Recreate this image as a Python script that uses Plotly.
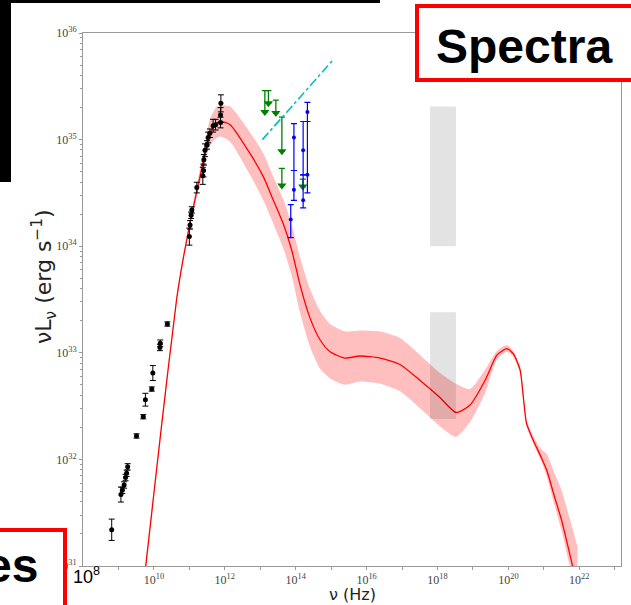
import numpy as np
import plotly.graph_objects as go

# ---------------- data (log10 values) ----------------
# black radio / sub-mm points
blk_lognu = [8.81, 9.07, 9.11, 9.16, 9.20, 9.23, 9.26, 9.51, 9.70, 9.76, 9.94, 9.97,
             10.17, 10.18, 10.38, 11.00, 11.02, 11.05, 11.07, 11.21, 11.38, 11.40,
             11.41, 11.44, 11.50, 11.53, 11.58, 11.67, 11.74, 11.88, 11.88, 11.89]
blk_logL = [31.34, 31.67, 31.71, 31.76, 31.83, 31.87, 31.93, 32.22, 32.40, 32.56, 32.66, 32.81,
            33.05, 33.09, 33.27, 34.09, 34.20, 34.29, 34.34, 34.55, 34.66, 34.71,
            34.81, 34.90, 34.95, 35.02, 35.06, 35.13, 35.14, 35.16, 35.23, 35.34]
blk_err = [0.10, 0.07, 0.03, 0.03, 0.03, 0.03, 0.03, 0.02, 0.02, 0.06, 0.02, 0.07,
           0.03, 0.03, 0.02, 0.08, 0.04, 0.03, 0.03, 0.05, 0.08, 0.06,
           0.05, 0.06, 0.04, 0.05, 0.04, 0.06, 0.05, 0.05, 0.07, 0.08]

# green upper limits: log nu, top (limit) and arrow tip
grn_lognu = [13.13, 13.23, 13.44, 13.61, 13.61, 14.20]
grn_top = [35.46, 35.46, 35.37, 35.21, 34.73, 34.63]
grn_tip = [35.26, 35.34, 35.25, 34.89, 34.57, 34.56]

# blue IR points with asymmetric errors (dex)
blu_lognu = [13.86, 13.95, 13.95, 14.21, 14.21, 14.33, 14.33]
blu_logL = [34.25, 35.02, 34.53, 34.90, 34.43, 35.26, 34.67]
blu_up = [0.14, 0.13, 0.18, 0.27, 0.24, 0.09, 0.50]
blu_dn = [0.17, 0.31, 0.10, 0.23, 0.07, 0.09, 0.17]

# cyan dash-dot line
cyan_lognu = [13.06, 15.06]
cyan_logL = [35.00, 35.75]

# model curve with uncertainty band
mod_lognu = [9.70, 9.79, 10.20, 10.64, 10.83, 11.02, 11.30, 11.58, 11.75, 11.88, 12.15,
             12.71, 13.09, 13.37, 13.65, 13.89, 14.12, 14.40, 14.69, 14.97, 15.39,
             15.81, 16.38, 16.94, 17.51, 18.07, 18.52, 18.92, 19.34, 19.68, 19.96,
             20.14, 20.33, 20.42, 20.51, 20.70, 20.94, 21.08, 21.30, 21.50, 21.81, 21.95]
mod_logL = [30.80, 31.06, 32.27, 33.50, 33.89, 34.22, 34.65, 35.06, 35.15, 35.17, 35.14,
            34.87, 34.65, 34.43, 34.21, 33.96, 33.64, 33.33, 33.12, 33.01, 32.95,
            32.97, 32.95, 32.89, 32.74, 32.58, 32.44, 32.51, 32.74, 32.98, 33.04,
            32.99, 32.84, 32.59, 32.34, 32.18, 32.01, 31.90, 31.65, 31.43, 31.00, 30.80]
mod_up = [0.02, 0.02, 0.02, 0.02, 0.02, 0.03, 0.08, 0.13, 0.15, 0.15, 0.17,
          0.20, 0.22, 0.22, 0.23, 0.24, 0.26, 0.27, 0.27, 0.26, 0.25,
          0.24, 0.25, 0.25, 0.24, 0.23, 0.27, 0.15, 0.10, 0.04, 0.03,
          0.03, 0.03, 0.03, 0.03, 0.04, 0.08, 0.15, 0.22, 0.28, 0.35, 0.38]
mod_dn = [0.02, 0.02, 0.02, 0.02, 0.02, 0.03, 0.06, 0.12, 0.14, 0.14, 0.16,
          0.20, 0.22, 0.22, 0.23, 0.24, 0.26, 0.27, 0.27, 0.25, 0.25,
          0.24, 0.24, 0.25, 0.26, 0.27, 0.23, 0.16, 0.12, 0.04, 0.03,
          0.03, 0.03, 0.03, 0.03, 0.03, 0.04, 0.06, 0.08, 0.10, 0.12, 0.12]

# grey shaded regions
gray_lognu = [17.79, 18.52]
gray1_logL = [34.00, 35.31]
gray2_logL = [32.38, 33.38]

x_tick_exp = [10, 12, 14, 16, 18, 20, 22]
y_tick_exp = [31, 32, 33, 34, 35, 36]

# ---------------- figure ----------------
P = lambda a: 10.0 ** np.asarray(a, dtype=float)

W, H = 631, 605
L, R, T, B = 83, 10, 33, 39
PW, PH = W - L - R, H - T - B


def px(x):
    return (x - L) / PW


def py(y):
    return (H - B - y) / PH


fig = go.Figure()

# model band
mx = P(mod_lognu)
fig.add_trace(go.Scatter(x=mx, y=P(np.array(mod_logL) - np.array(mod_dn)), mode="lines",
                         line=dict(width=0, shape="spline", smoothing=0.6), hoverinfo="skip",
                         showlegend=False))
fig.add_trace(go.Scatter(x=mx, y=P(np.array(mod_logL) + np.array(mod_up)), mode="lines",
                         line=dict(width=0, shape="spline", smoothing=0.6), fill="tonexty",
                         fillcolor="rgba(255,0,0,0.25)", hoverinfo="skip", showlegend=False))
fig.add_trace(go.Scatter(x=mx, y=P(mod_logL), mode="lines",
                         line=dict(color="red", width=1.3, shape="spline", smoothing=0.6),
                         showlegend=False))

# grey regions
for gl in (gray1_logL, gray2_logL):
    gx = P([gray_lognu[0], gray_lognu[1], gray_lognu[1], gray_lognu[0], gray_lognu[0]])
    gy = P([gl[0], gl[0], gl[1], gl[1], gl[0]])
    fig.add_trace(go.Scatter(x=gx, y=gy, mode="lines", fill="toself", line=dict(width=0),
                             fillcolor="rgba(0,0,0,0.11)", hoverinfo="skip", showlegend=False))

# black points
by = P(blk_logL)
be = np.array(blk_err)
fig.add_trace(go.Scatter(
    x=P(blk_lognu), y=by, mode="markers",
    marker=dict(color="black", size=5),
    error_y=dict(type="data", symmetric=False, array=by * (10 ** be - 1),
                 arrayminus=by * (1 - 10 ** (-be)), color="black", thickness=1, width=3),
    showlegend=False))

# green upper limits
gt = P(grn_top)
gp = P(grn_tip)
fig.add_trace(go.Scatter(
    x=P(grn_lognu), y=gp, mode="markers",
    marker=dict(color="green", size=8, symbol="triangle-down"),
    error_y=dict(type="data", symmetric=False, array=gt - gp, arrayminus=np.zeros(len(gp)),
                 color="green", thickness=1.3, width=3),
    showlegend=False))

# blue points
uy = P(blu_logL)
fig.add_trace(go.Scatter(
    x=P(blu_lognu), y=uy, mode="markers",
    marker=dict(color="blue", size=4),
    error_y=dict(type="data", symmetric=False, array=uy * (10 ** np.array(blu_up) - 1),
                 arrayminus=uy * (1 - 10 ** (-np.array(blu_dn))), color="blue",
                 thickness=1.2, width=3),
    showlegend=False))

# cyan line
fig.add_trace(go.Scatter(x=P(cyan_lognu), y=P(cyan_logL), mode="lines",
                         line=dict(color="rgb(0,191,191)", width=1.6, dash="dashdot"),
                         showlegend=False))

tickfont = dict(family="Liberation Serif", size=12, color="#444")
fig.update_xaxes(
    type="log", range=[8, 8 + PW / 35.45], showline=True, linecolor="#999", linewidth=1,
    mirror=True, showgrid=False, zeroline=False, ticks="outside", ticklen=3, tickcolor="#999",
    tickvals=[float(10.0 ** e) for e in x_tick_exp],
    ticktext=["10<sup>%d</sup>" % e for e in x_tick_exp], tickfont=tickfont,
    minor=dict(tickvals=[float(10.0 ** e) for e in range(9, 24, 2)], ticks="outside",
               ticklen=3, tickcolor="#999"))
fig.update_yaxes(
    type="log", range=[31, 36], showline=True, linecolor="#999", linewidth=1, mirror=True,
    showgrid=False, zeroline=False, ticks="outside", ticklen=3, tickcolor="#999",
    tickvals=[float(10.0 ** e) for e in y_tick_exp],
    ticktext=["10<sup>%d</sup>" % e for e in y_tick_exp], tickfont=tickfont,
    minor=dict(tickvals=[float(m * 10.0 ** e) for e in range(31, 36) for m in range(2, 10)],
               ticks="outside", ticklen=2, tickcolor="#999"))

shapes = [
    # black frame pieces from the slide
    dict(type="rect", xref="paper", yref="paper", x0=px(-5), x1=px(380), y0=py(-5), y1=py(3),
         fillcolor="black", line=dict(width=0), layer="above"),
    dict(type="rect", xref="paper", yref="paper", x0=px(-5), x1=px(11), y0=py(-5), y1=py(182),
         fillcolor="black", line=dict(width=0), layer="above"),
    # red boxes
    dict(type="rect", xref="paper", yref="paper", x0=px(417), x1=px(645), y0=py(6), y1=py(80),
         fillcolor="white", line=dict(color="red", width=4), layer="above"),
    dict(type="rect", xref="paper", yref="paper", x0=px(-20), x1=px(65), y0=py(530), y1=py(625),
         fillcolor="white", line=dict(color="red", width=4), layer="above"),
]

annotations = [
    dict(text="<b>Spectra</b>", x=px(524), y=py(46), xref="paper", yref="paper",
         showarrow=False, font=dict(family="Liberation Sans", size=48, color="black"),
         xanchor="center", yanchor="middle"),
    dict(text="<b>es</b>", x=px(40), y=py(565), xref="paper", yref="paper",
         showarrow=False, font=dict(family="Liberation Sans", size=48, color="black"),
         xanchor="right", yanchor="middle"),
    dict(text="10<sup>8</sup>", x=px(86), y=py(575), xref="paper", yref="paper",
         showarrow=False, font=dict(family="Liberation Sans", size=18, color="black"),
         xanchor="center", yanchor="middle"),
    dict(text="νL<sub>ν</sub> (erg s<sup>−1</sup>)", x=px(44), y=py(277), xref="paper",
         yref="paper", showarrow=False, textangle=-90,
         font=dict(family="DejaVu Sans", size=22, color="#222"),
         xanchor="center", yanchor="middle"),
    dict(text="ν (Hz)", x=px(352), y=py(594), xref="paper", yref="paper", showarrow=False,
         font=dict(family="DejaVu Sans", size=16, color="#222"),
         xanchor="center", yanchor="middle"),
]

fig.update_layout(width=W, height=H, margin=dict(l=L, r=R, t=T, b=B, pad=0),
                  paper_bgcolor="white", plot_bgcolor="white", showlegend=False,
                  shapes=shapes, annotations=annotations)

fig.write_html("out.html", config={"displayModeBar": False},
               post_script="document.body.style.margin='0';"
                           "document.body.style.overflow='hidden';")
